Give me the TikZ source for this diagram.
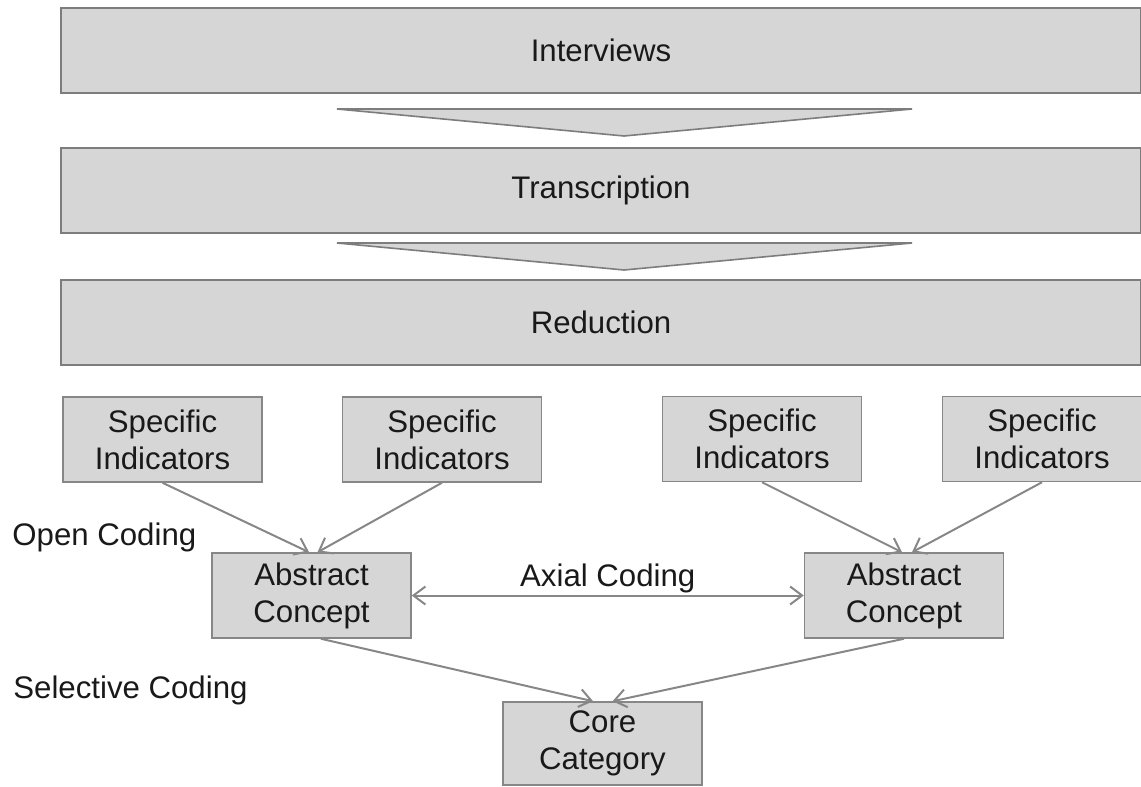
\documentclass[tikz,border=0pt]{standalone}
\usepackage{fontspec}
\setmainfont{Liberation Sans}
\usetikzlibrary{arrows.meta}
\definecolor{boxgray}{RGB}{214,214,214}
\definecolor{edgegray}{RGB}{125,125,125}
\definecolor{linegray}{RGB}{135,135,135}
\definecolor{ink}{RGB}{25,25,25}
\newcommand{\lbl}{\fontsize{15.6}{18.5}\selectfont}
\tikzset{
  stage/.style={draw=edgegray,line width=1pt,fill=boxgray,minimum width=540pt,minimum height=42.5pt,font=\lbl,text=ink},
  cbox/.style={draw=linegray,line width=0.75pt,fill=boxgray,minimum width=99.5pt,minimum height=42.5pt,align=center,font=\lbl,text=ink,inner sep=0pt},
  chev/.style={draw=edgegray,line width=0.8pt,fill=boxgray},
  flow/.style={draw=linegray,line width=1pt,-{Straight Barb[length=6pt,width=9pt]}},
  tag/.style={font=\lbl,text=ink,inner sep=0pt}
}
\begin{document}
\begin{tikzpicture}[x=0.5pt,y=-0.5pt]
  \useasboundingbox (0,0) rectangle (1141,787);
  % stages
  \node[stage] (intv) at (601,50.5) {Interviews};
  \node[stage] (trans) at (601,190.5) {Transcription};
  \node[stage] (red) at (601,322) {Reduction};
  \draw[chev] (337,109) -- (912,109) -- (624,136) -- cycle;
  \draw[chev] (337,243) -- (912,243) -- (624,270) -- cycle;
  % coding
  \node[cbox] (si1) at (162.5,439.5) {Specific\\Indicators};
  \node[cbox] (si2) at (442,439.5) {Specific\\Indicators};
  \node[cbox] (si3) at (762,439) {Specific\\Indicators};
  \node[cbox] (si4) at (1042,439) {Specific\\Indicators};
  \node[cbox] (ac1) at (311.5,595.5) {Abstract\\Concept};
  \node[cbox] (ac2) at (904,595.5) {Abstract\\Concept};
  \node[cbox,minimum height=41.5pt] (core) at (602.5,743.5) {Core\\Category};
  \node[tag,anchor=west] (open) at (12,537) {Open Coding};
  \node[tag,anchor=west] (sel) at (13,690) {Selective Coding};
  \draw[flow] (si1.south) -- ([xshift=-1.2pt]ac1.north);
  \draw[flow] (si2.south) -- ([xshift=3pt]ac1.north);
  \draw[flow] (si3.south) -- ([xshift=-1pt]ac2.north);
  \draw[flow] (si4.south) -- ([xshift=4pt]ac2.north);
  \draw[flow,{Straight Barb[length=6pt,width=9pt]}-{Straight Barb[length=6pt,width=9pt]}] (ac1.east) -- node[tag,above=1pt] (axial) {Axial Coding} (ac2.west);
  \draw[flow] ([xshift=4.7pt]ac1.south) -- ([xshift=-4.7pt]core.north);
  \draw[flow] (ac2.south) -- ([xshift=5pt]core.north);
\end{tikzpicture}
\end{document}
